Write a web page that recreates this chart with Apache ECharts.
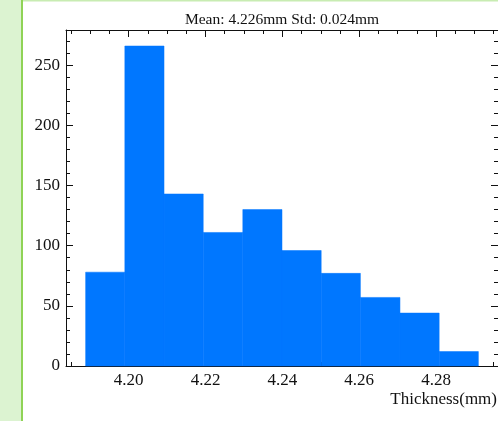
<!DOCTYPE html>
<html>
<head>
<meta charset="utf-8">
<script src="https://cdn.jsdelivr.net/npm/echarts@6/dist/echarts.min.js"></script>
<style>
  html, body { margin: 0; padding: 0; background: #fff; }
  #chart { width: 498px; height: 421px; }
</style>
</head>
<body>
<div id="chart"></div>
<script>
// Histogram of measured thickness: bin edges (mm) and counts per bin
const binEdges = [4.1888, 4.1990, 4.2092, 4.2194, 4.2297, 4.2399, 4.2501, 4.2603, 4.2706, 4.2808, 4.2910];
const counts = [78, 266, 143, 111, 130, 96, 77, 57, 44, 12];
const xTickLabels = [4.20, 4.22, 4.24, 4.26, 4.28];
const yTickLabels = [0, 50, 100, 150, 200, 250];
const titleText = 'Mean: 4.226mm Std: 0.024mm';
const xAxisName = 'Thickness(mm)';

// Axis extents with a 5% margin on x and 5% headroom on y
const span = binEdges[binEdges.length - 1] - binEdges[0];
const xMin = binEdges[0] - 0.05 * span;
const xMax = binEdges[binEdges.length - 1] + 0.05 * span;
const yMin = 0;
const yMax = Math.max(...counts) * 1.05;

// Minor tick positions
const xMinor = [];
for (let v = Math.ceil(xMin / 0.005) * 0.005; v <= xMax; v += 0.005) xMinor.push(+v.toFixed(4));
const yMinor = [];
for (let v = 0; v <= yMax; v += 10) yMinor.push(v);

const bins = counts.map((c, i) => [binEdges[i], binEdges[i + 1], c]);

const FONT = 'Liberation Serif';
const AX = '#111';

function xAxisDef(position, major, showLine, showLabel) {
  return {
    type: 'value', position, min: xMin, max: xMax, gridIndex: 0,
    axisLine: { show: showLine, onZero: false, lineStyle: { color: AX, width: 1 } },
    axisTick: { show: true, inside: true, length: major ? 7 : 4,
      customValues: major ? xTickLabels : xMinor, lineStyle: { color: AX, width: 1 } },
    axisLabel: { show: showLabel, customValues: xTickLabels, margin: 6,
      formatter: v => v.toFixed(2), fontFamily: FONT, fontSize: 17, color: AX },
    splitLine: { show: false }
  };
}
function yAxisDef(position, major, showLine, showLabel) {
  return {
    type: 'value', position, min: yMin, max: yMax, gridIndex: 0,
    axisLine: { show: showLine, onZero: false, lineStyle: { color: AX, width: 1 } },
    axisTick: { show: true, inside: true, length: major ? 7 : 4,
      customValues: major ? yTickLabels : yMinor, lineStyle: { color: AX, width: 1 } },
    axisLabel: { show: showLabel, customValues: yTickLabels, margin: 6,
      formatter: v => String(v), fontFamily: FONT, fontSize: 17, color: AX },
    splitLine: { show: false }
  };
}

const chart = echarts.init(document.getElementById('chart'), null, { renderer: 'canvas' });
chart.setOption({
  backgroundColor: '#ffffff',
  animation: false,
  title: {
    text: titleText, left: 282, top: 12, textAlign: 'center', padding: 0,
    textStyle: { fontFamily: FONT, fontSize: 15.5, fontWeight: 'normal', color: AX }
  },
  graphic: [
    { type: 'rect', shape: { x: 0, y: 0, width: 21, height: 421 }, style: { fill: '#dcf3d1' }, z: -10 },
    { type: 'rect', shape: { x: 21, y: 0, width: 2, height: 421 }, style: { fill: '#8fd356' }, z: -10 },
    { type: 'rect', shape: { x: 23, y: 0, width: 475, height: 1.5 }, style: { fill: '#c8ecb2' }, z: -10 },
    { type: 'text', right: 1, top: 391,
      style: { text: xAxisName, fontFamily: FONT, fontSize: 17, fill: AX } }
  ],
  grid: { left: 66, right: 0, top: 30, bottom: 55, containLabel: false },
  xAxis: [
    xAxisDef('bottom', true, true, true),
    xAxisDef('bottom', false, false, false),
    xAxisDef('top', true, true, false),
    xAxisDef('top', false, false, false)
  ],
  yAxis: [
    yAxisDef('left', true, true, true),
    yAxisDef('left', false, false, false),
    yAxisDef('right', true, true, false),
    yAxisDef('right', false, false, false)
  ],
  series: [{
    type: 'custom',
    xAxisIndex: 0, yAxisIndex: 0,
    data: bins,
    encode: { x: [0, 1], y: 2 },
    renderItem: function (params, api) {
      const p0 = api.coord([api.value(0), api.value(2)]);
      const p1 = api.coord([api.value(1), 0]);
      return {
        type: 'rect',
        shape: { x: p0[0], y: p0[1], width: p1[0] - p0[0], height: p1[1] - p0[1] },
        style: { fill: '#0077ff', stroke: '#0077ff', lineWidth: 0.5 }
      };
    }
  }]
});
</script>
</body>
</html>
